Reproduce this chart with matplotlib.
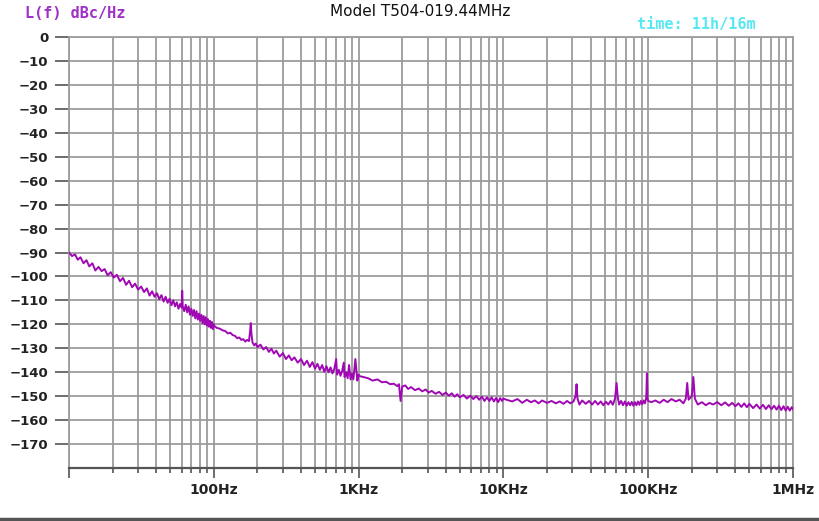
# -*- coding: utf-8 -*-
"""Phase noise plot, Model T504-019.44MHz."""

import matplotlib

matplotlib.use("Agg")
import matplotlib.pyplot as plt
from matplotlib.lines import Line2D
from matplotlib.ticker import FixedLocator, FixedFormatter, NullFormatter
import numpy as np

TITLE = "Model T504-019.44MHz"
Y_LABEL = "L(f) dBc/Hz"
TIME_TEXT = "time: 11h/16m"

# 10 Hz .. 100 Hz
freq_dec1 = [10, 10.5, 11, 11.5, 12, 12.6, 13.2, 13.8, 14.5, 15.2, 16, 16.8, 17.6, 18.5,
             19.4, 20.4, 21.4, 22.5, 23.6, 24.8, 26, 27.3, 28.6, 30, 31.5, 33, 34.5, 36,
             37.5, 39, 40.5, 42, 43.5, 45, 46.5, 48, 49.5, 51, 52.5, 54, 55.5, 57, 58.5,
             60, 60.5, 61, 62.5, 64, 65.5, 67, 68.5, 70, 71.5, 73, 74.5, 76, 77.5, 79,
             80.5, 82, 83.5, 85, 86.5, 88, 89.5, 91, 92.5, 94, 95.5, 97, 98.5, 100]
level_dec1 = [-90, -91.5, -90.8, -93, -92, -94.5, -93.2, -95.8, -94.5, -97.5, -96, -97.8,
              -96.9, -99.5, -98.2, -100.5, -99.3, -102, -100.6, -103.5, -101.8, -104.5,
              -103, -105.5, -104.2, -106.5, -105, -108, -106.2, -108.5, -107, -109.5,
              -107.8, -110.5, -108.5, -111, -109.3, -112, -110, -112.5, -110.8, -113.5,
              -111.5, -113, -106, -112.5, -114.5, -111.8, -115, -112.5, -116, -113.5,
              -116.5, -114, -117.5, -114.5, -118, -115.5, -118.5, -116, -119.5, -116.5,
              -120, -117, -120.5, -117.8, -121, -118.5, -121.5, -119, -122, -120]

# 100 Hz .. 1 kHz
freq_dec2 = [100, 105, 110, 115, 120, 125, 130, 135, 140, 145, 150, 155, 160, 165, 170,
             175, 178, 180, 182, 185, 190, 195, 200, 210, 220, 230, 240, 250, 260, 270,
             285, 300, 315, 330, 345, 360, 380, 400, 420, 440, 460, 480, 500, 520, 540,
             560, 580, 600, 620, 640, 660, 680, 700, 710, 730, 750, 770, 790, 800, 820,
             840, 860, 880, 900, 920, 950, 980, 1000]
level_dec2 = [-120.5, -121.5, -121.8, -122.5, -122.8, -123.8, -123.5, -124.5, -124.8,
              -125.8, -125.5, -126.5, -126.2, -127.2, -126.5, -127, -123, -119.5, -124,
              -127.5, -128.8, -128, -129.5, -128.5, -130.5, -129.5, -131.5, -130.2,
              -132.2, -131, -133.5, -132, -134.5, -133, -135, -133.8, -136, -134.5, -137,
              -135.2, -137.8, -135.8, -138.5, -136.5, -139, -137, -139.8, -137.5, -140,
              -138, -140.5, -138.5, -134.5, -141, -139, -141.5, -139.5, -136, -142, -140,
              -142.5, -137, -143, -140.5, -143, -134.5, -143.5, -141]

# 1 kHz .. 10 kHz
freq_dec3 = [1000, 1080, 1160, 1250, 1350, 1450, 1550, 1650, 1750, 1850, 1900, 1950, 2000,
             2100, 2200, 2300, 2450, 2600, 2750, 2900, 3050, 3200, 3400, 3600, 3800, 4000,
             4200, 4400, 4600, 4800, 5000, 5300, 5600, 5900, 6200, 6500, 6800, 7100, 7400,
             7700, 8000, 8300, 8600, 8900, 9200, 9500, 9800, 10000]
level_dec3 = [-141.5, -142, -142.5, -143.5, -143, -144.2, -144, -145, -144.8, -145.8, -145,
              -152, -146, -145.5, -147, -146.2, -147.5, -146.8, -148, -147.2, -148.5,
              -147.8, -149, -148.2, -149.5, -148.5, -149.8, -148.8, -150.2, -149.2,
              -150.5, -149.5, -151, -149.8, -151.2, -150, -151.5, -150.2, -152, -150.5,
              -152, -150.5, -152.2, -150.8, -152.5, -150.8, -152, -151]

# 10 kHz .. 100 kHz
freq_dec4 = [10500, 11500, 12500, 13500, 14500, 15500, 16500, 17500, 18500, 20000, 21500,
             23000, 24500, 26000, 27500, 29000, 30500, 31500, 32000, 32500, 33500, 35000,
             37000, 39000, 41000, 43000, 45000, 47000, 49000, 51000, 53000, 55000, 57000,
             59000, 60500, 61500, 63000, 65000, 67000, 69000, 71000, 73000, 75000, 77000,
             79000, 81000, 83000, 85000, 87000, 89000, 91000, 93000, 95000, 97000, 98000,
             99000, 100000]
level_dec4 = [-151.5, -152.2, -151.2, -152.8, -151.5, -152.5, -151.8, -153, -151.8, -152.8,
              -152, -153, -152.2, -153.2, -152, -153, -152.2, -150, -145, -151, -153.5,
              -151.8, -153.2, -152, -153.5, -152, -153.5, -152.2, -153.8, -152.3, -153.5,
              -152, -153.6, -151, -144.5, -150, -153.5, -152, -153.8, -152.2, -154,
              -152.5, -153.8, -152.4, -154, -152.5, -153.8, -152.2, -153.6, -152, -153.4,
              -151.8, -153, -150.5, -140.5, -151, -152]

# 100 kHz .. 1 MHz
freq_dec5 = [105000, 112000, 120000, 128000, 136000, 145000, 155000, 165000, 175000,
             182000, 186000, 190000, 200000, 205000, 210000, 220000, 235000, 250000,
             265000, 280000, 300000, 320000, 340000, 360000, 380000, 400000, 420000,
             440000, 460000, 480000, 500000, 530000, 560000, 590000, 620000, 650000,
             680000, 710000, 740000, 770000, 800000, 830000, 860000, 890000, 920000,
             950000, 980000, 1000000]
level_dec5 = [-152.5, -151.8, -152.8, -151.5, -152.5, -151.2, -152.2, -151.5, -153, -151,
              -144.5, -151.5, -150, -142, -151, -153.5, -152.5, -153.8, -152.8, -153.5,
              -152.5, -153.8, -152.6, -154, -152.8, -154.2, -153, -154.5, -153, -154.6,
              -153.2, -155, -153.5, -155.2, -153.6, -155.4, -153.8, -155.5, -154, -155.6,
              -154, -155.8, -154.2, -156, -154.4, -156, -154.6, -155.5]

x_major = [10, 100, 1000, 10000, 100000, 1000000]
x_labels = ["", "100Hz", "1KHz", "10KHz", "100KHz", "1MHz"]
y_ticks = list(range(0, -180, -10))

GRID = "#9c9c9c"
AXIS = "#555555"
TRACE = "#a008b4"

freq = np.concatenate([freq_dec1, freq_dec2, freq_dec3, freq_dec4, freq_dec5])
level = np.concatenate([level_dec1, level_dec2, level_dec3, level_dec4, level_dec5])

fig = plt.figure(figsize=(8.2, 5.21), dpi=100)
ax = fig.add_axes([69 / 820, 1 - 468 / 521, 724 / 820, 431 / 521])

ax.set_xscale("log")
ax.set_xlim(10, 1e6)
ax.set_ylim(-180, 0)

minor = [m * 10 ** e for e in range(1, 6) for m in range(2, 10)]
ax.xaxis.set_major_locator(FixedLocator(x_major))
ax.xaxis.set_major_formatter(FixedFormatter(x_labels))
ax.xaxis.set_minor_locator(FixedLocator(minor))
ax.xaxis.set_minor_formatter(NullFormatter())
ax.set_yticks(y_ticks)
ax.set_yticklabels([str(v).replace("-", "\u2212") for v in y_ticks])

ax.grid(True, which="both", axis="x", color=GRID, lw=1.3)
ax.grid(True, which="major", axis="y", color=GRID, lw=1.3)
ax.set_axisbelow(True)

ax.plot(freq, level, color=TRACE, lw=1.4, zorder=3)

for side in ("top", "left", "right"):
    ax.spines[side].set_color(GRID)
    ax.spines[side].set_linewidth(1.3)
ax.spines["bottom"].set_color(AXIS)
ax.spines["bottom"].set_linewidth(1.6)

ax.tick_params(axis="x", which="major", length=7.5, width=1.2, color=AXIS, pad=3,
               labelsize=10, labelcolor="#222222")
ax.tick_params(axis="x", which="minor", length=3.8, width=1.2, color=AXIS)
ax.tick_params(axis="y", which="major", length=10, width=1.2, color=AXIS, pad=5,
               labelsize=9.5, labelcolor="#222222")
for lab in ax.get_xticklabels() + ax.get_yticklabels():
    lab.set_fontweight("bold")

fig.text(420 / 820, 1 - 12 / 521, TITLE, ha="center", va="center", fontsize=11,
         color="#111111")
fig.text(25 / 820, 1 - 14 / 521, Y_LABEL, ha="left", va="center", fontsize=11,
         family="DejaVu Sans Mono", fontweight="bold", color="#a030c8")
fig.text(637 / 820, 1 - 25 / 521, TIME_TEXT, ha="left", va="center", fontsize=11,
         family="DejaVu Sans Mono", fontweight="bold", color="#58e8f4")

fig.add_artist(Line2D([0, 1], [2 / 521, 2 / 521], transform=fig.transFigure,
                      color="#555555", lw=2.5))

fig.savefig("out.png", dpi=100)
